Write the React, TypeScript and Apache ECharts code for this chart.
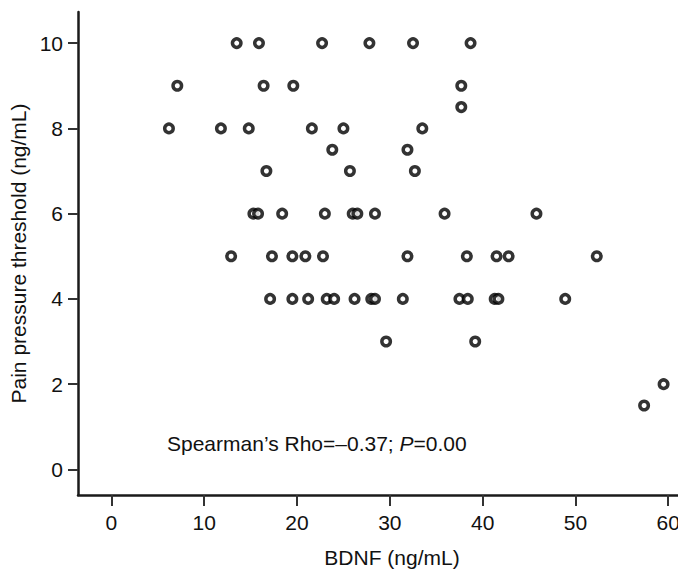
import React, { useEffect, useRef } from "react";
import * as echarts from "echarts";

// BDNF (ng/mL) values
const bdnfValues = [
  13.5, 15.9, 22.7, 27.8, 32.5, 38.7,
  7.1, 16.4, 19.6, 37.7,
  37.7,
  6.2, 11.8, 14.8, 21.6, 25.0, 33.5,
  23.8, 31.9,
  16.7, 25.7, 32.7,
  15.3, 15.8, 18.4, 23.0, 26.0, 26.5, 28.4, 35.9, 45.8,
  12.9, 17.3, 19.5, 20.9, 22.8, 31.9, 38.3, 41.5, 42.8, 52.3,
  17.1, 19.5, 21.2, 23.2, 24.0, 26.2, 28.0, 28.4, 31.4, 37.5, 38.4, 41.3, 41.7, 48.9,
  29.6, 39.2,
  59.5,
  57.4,
];

// Pain pressure threshold (ng/mL), matching bdnfValues one for one
const painValues = [
  10, 10, 10, 10, 10, 10,
  9, 9, 9, 9,
  8.5,
  8, 8, 8, 8, 8, 8,
  7.5, 7.5,
  7, 7, 7,
  6, 6, 6, 6, 6, 6, 6, 6, 6,
  5, 5, 5, 5, 5, 5, 5, 5, 5, 5,
  4, 4, 4, 4, 4, 4, 4, 4, 4, 4, 4, 4, 4, 4,
  3, 3,
  2,
  1.5,
];

const xTicks = [0, 10, 20, 30, 40, 50, 60];
const yTicks = [0, 2, 4, 6, 8, 10];

const xAxisTitle = "BDNF (ng/mL)";
const yAxisTitle = "Pain pressure threshold (ng/mL)";

const FONT = "'Liberation Sans', Arial, Helvetica, sans-serif";

export default function App() {
  const ref = useRef<HTMLDivElement>(null);

  useEffect(() => {
    if (!ref.current) return;
    const chart = echarts.init(ref.current, null, { renderer: "svg" });
    const points = bdnfValues.map((x, i) => [x, painValues[i]]);

    chart.setOption({
      animation: false,
      backgroundColor: "#ffffff",
      grid: {
        left: 78,
        top: 12,
        width: 628,
        height: 483,
        containLabel: false,
        outerBoundsMode: "none",
      },
      xAxis: {
        type: "value",
        min: -3.6,
        max: 64.07,
        name: xAxisTitle,
        nameLocation: "middle",
        nameGap: 52,
        nameTextStyle: { fontFamily: FONT, fontSize: 21, color: "#111" },
        splitLine: { show: false },
        axisLine: { show: true, onZero: false, lineStyle: { color: "#1a1a1a", width: 2.5 } },
        axisTick: {
          show: true,
          inside: false,
          length: 11,
          customValues: xTicks,
          lineStyle: { color: "#333", width: 2 },
        },
        axisLabel: {
          customValues: xTicks,
          margin: 17,
          fontFamily: FONT,
          fontSize: 21,
          color: "#111",
        },
      },
      yAxis: {
        type: "value",
        min: -0.6,
        max: 10.73,
        name: yAxisTitle,
        nameLocation: "middle",
        nameGap: 42,
        nameRotate: 90,
        nameTextStyle: { fontFamily: FONT, fontSize: 21, color: "#111" },
        splitLine: { show: false },
        axisLine: { show: true, onZero: false, lineStyle: { color: "#1a1a1a", width: 2.5 } },
        axisTick: {
          show: true,
          inside: false,
          length: 10,
          customValues: yTicks,
          lineStyle: { color: "#333", width: 2 },
        },
        axisLabel: {
          customValues: yTicks,
          margin: 15,
          fontFamily: FONT,
          fontSize: 21,
          color: "#111",
        },
      },
      graphic: [
        {
          type: "text",
          left: 167,
          top: 432.5,
          style: {
            text: "Spearman\u2019s Rho=\u20130.37; {i|P}=0.00",
            fontFamily: FONT,
            fontSize: 21,
            fill: "#111",
            verticalAlign: "middle",
            rich: {
              i: { fontFamily: FONT, fontSize: 21, fontStyle: "italic", fill: "#111" },
            },
          },
        },
      ],
      series: [
        {
          type: "scatter",
          data: points,
          symbol: "circle",
          symbolSize: 8.5,
          itemStyle: { color: "#ffffff", borderColor: "#000000", borderWidth: 3.5 },
        },
      ],
    });

    return () => chart.dispose();
  }, []);

  return (
    <div
      ref={ref}
      style={{ position: "absolute", left: 0, top: 0, width: 678, height: 574 }}
    />
  );
}
